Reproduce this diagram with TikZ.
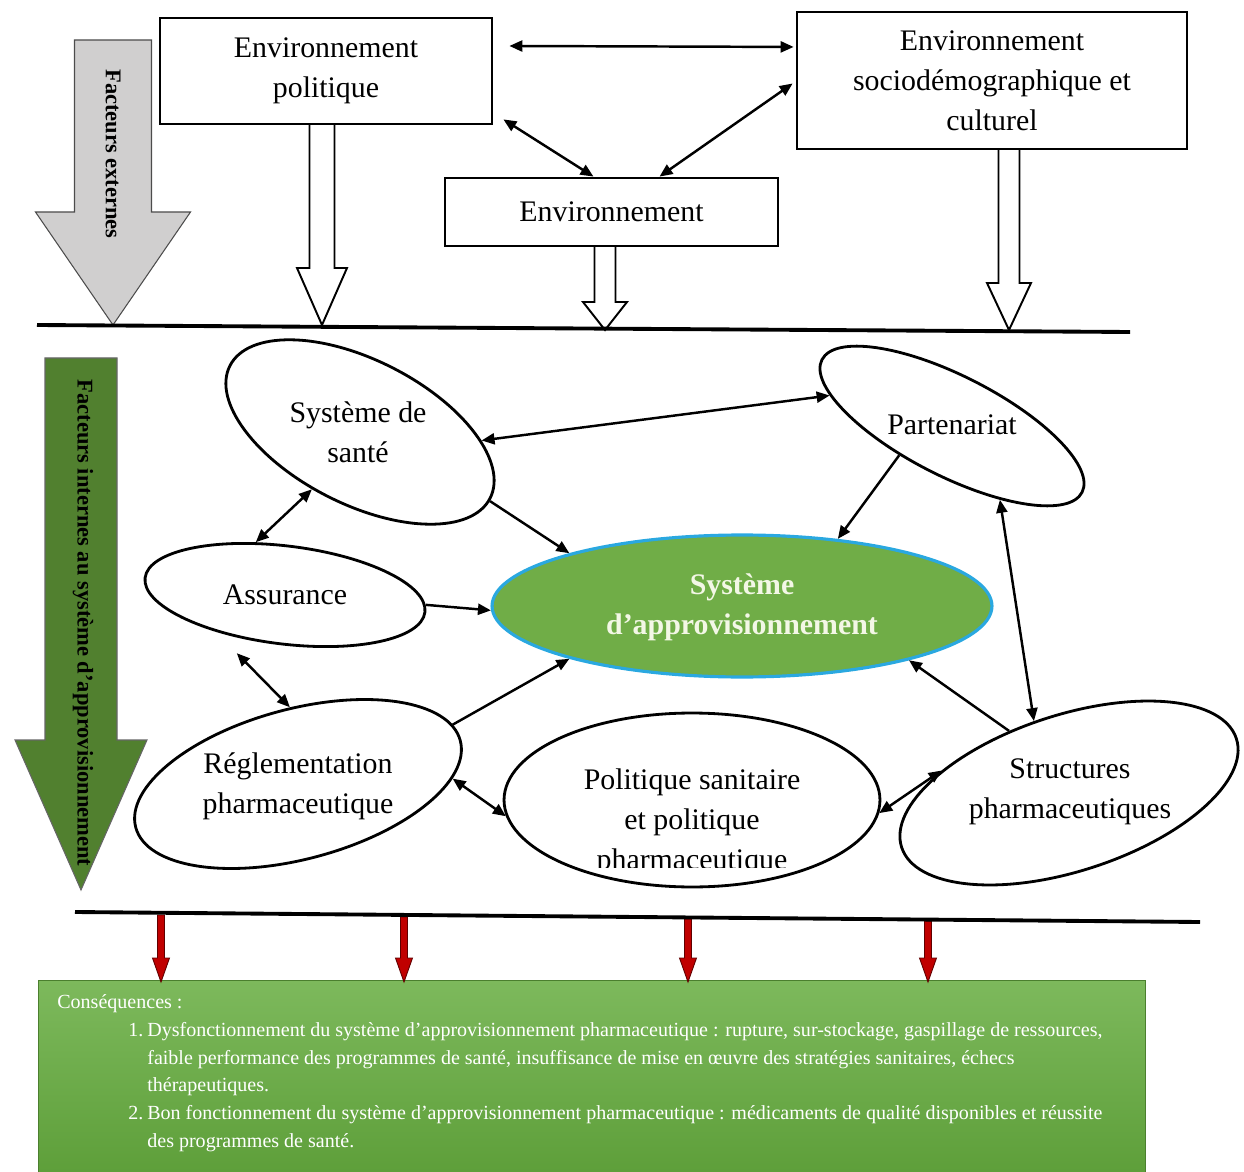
\documentclass[tikz,border=0pt]{standalone}
\usepackage{fontspec}
\setmainfont{Liberation Serif}
\usepackage{tikz}
\usetikzlibrary{arrows.meta}
\usetikzlibrary{calc}
\usetikzlibrary{shapes.geometric}

\definecolor{csqtop}{HTML}{7DB95C}
\definecolor{csqbot}{HTML}{5E9F3A}
\definecolor{maingreen}{HTML}{70AD47}
\definecolor{mainblue}{HTML}{2AA8E0}
\definecolor{maintext}{HTML}{F3F7E6}
\definecolor{extgray}{HTML}{D0CFCF}
\definecolor{intgreen}{HTML}{51802F}
\definecolor{arrowred}{HTML}{C00000}

% block arrow pointing down: style, x, top, head start, tip, half shaft, half head
\newcommand{\downblock}[7]{%
	\draw [#1] (#2-#6,#3) -- (#2+#6,#3) -- (#2+#6,#4) -- (#2+#7,#4) -- (#2,#5)
		-- (#2-#7,#4) -- (#2-#6,#4) -- cycle;}

\begin{document}
\begin{tikzpicture}[x=0.02cm,y=-0.02cm,
	>={Triangle[length=2.6mm,width=2.2mm]},
	envbox/.style={shape=rectangle,draw,line width=1.6pt,align=center,font=\fontsize{17}{22.8}\selectfont},
	oval/.style={shape=ellipse,draw,line width=1.6pt,inner sep=0pt},
	lbl/.style={align=center,font=\fontsize{17}{22.8}\selectfont},
	link/.style={line width=1.4pt},
	hollow/.style={draw,fill=white,line width=1.1pt},
	sidetext/.style={rotate=-90,font=\fontsize{12.8}{14}\selectfont\bfseries},
	csqtext/.style={anchor=base west,inner sep=0pt,text=white,font=\fontsize{11.4}{15}\selectfont}]
	\useasboundingbox (0,0) rectangle (1244,1172);

	% external factors
	\downblock{draw=black!70,fill=extgray,line width=0.6pt}{113}{40}{212}{325}{38.5}{77.5}
	\draw (113,154) node (ext) [sidetext] {Facteurs externes};

	\draw (326,71) node (pol) [envbox,minimum width=6.64cm,minimum height=2.12cm] {Environnement\\politique};
	\draw (611.5,212) node (env) [envbox,minimum width=6.66cm,minimum height=1.36cm] {Environnement};
	\draw (992,80.5) node (soc) [envbox,minimum width=7.8cm,minimum height=2.74cm] {Environnement\\sociodémographique et\\culturel};

	\draw [<->,link] ($(pol.north east)!.27!(pol.south east)+(16,0)$) -- ($(soc.north west)!.26!(soc.south west)+(-2,0)$);
	\draw [<->,link] ($(pol.south east)+(10,-6)$) -- ($(env.north)+(-18,0)$);
	\draw [<->,link] ($(soc.west)+(-3,3)$) -- ($(env.north)+(48,0)$);

	\downblock{hollow}{322}{124}{268}{325}{12.5}{25}
	\downblock{hollow}{605}{246}{302}{330}{10.5}{22}
	\downblock{hollow}{1009}{149}{283}{330}{10.5}{22}

	\draw [line width=2.2pt] (37,325) -- (1130,332);

	% internal factors
	\downblock{draw=black!60,fill=intgreen,line width=0.6pt}{81}{358}{740}{890}{36}{66}
	\draw (83,623) node (int) [sidetext] {Facteurs internes au système d’approvisionnement};

	\draw (360,432) node (sante) [oval,rotate=-27,minimum width=5.84cm,minimum height=2.88cm] {};
	\draw (952,426) node (part) [oval,rotate=-27,minimum width=5.84cm,minimum height=2.0cm] {};
	\draw (285,595) node (assur) [oval,rotate=-7,minimum width=5.64cm,minimum height=1.96cm] {};
	\draw (742,606) node (main) [oval,draw=mainblue,fill=maingreen,line width=1.8pt,minimum width=10cm,minimum height=2.84cm] {};
	\draw (298,784) node (regl) [oval,rotate=15,minimum width=6.72cm,minimum height=3.0cm] {};
	\draw (692,800) node (polsan) [oval,minimum width=7.52cm,minimum height=3.48cm] {};
	\draw (1069,793) node (struct) [oval,rotate=18,minimum width=7.04cm,minimum height=3.12cm] {};

	\draw (358,432) node (santetxt) [lbl] {Système de\\santé};
	\draw (952,425) node (parttxt) [lbl] {Partenariat};
	\draw (285,595) node (assurtxt) [lbl] {Assurance};
	\draw (742,607) node (maintxt) [lbl,text=maintext,font=\fontsize{17}{22.8}\selectfont\bfseries] {Système\\d’approvisionnement};
	\draw (298,786) node (regltxt) [lbl] {Réglementation\\pharmaceutique};
	\begin{scope}
		\clip (480,700) rectangle (900,867);
		\draw (692,822) node (polsantxt) [lbl] {Politique sanitaire\\et politique\\pharmaceutique};
	\end{scope}
	\draw (1070,792) node (structtxt) [lbl] {Structures\\pharmaceutiques};

	\draw [<->,link] (sante.23) -- (part.-167);
	\draw [->,link] (sante.-1) -- (main.163);
	\draw [<->,link] (sante.-103) -- (assur.126);
	\draw [->,link] (assur.3) -- (main.181);
	\draw [->,link] (part.-124) -- (main.35);
	\draw [<->,link] (part.-30) -- (struct.98);
	\draw [<->,link,shorten >=0.6cm] (regl.81) -- (assur.-145);
	\draw [->,link] (regl.6) -- (main.-163);
	\draw [<->,link] (regl.-13) -- (polsan.-175);
	\draw [<->,link] (struct.152) -- (polsan.-4);
	\draw [->,link] (struct.116) -- (main.-18);

	% consequences
	\draw (591.5,1076) node (csqbox) [shape=rectangle,top color=csqtop,bottom color=csqbot,draw=csqbot!80!black,line width=0.4pt,minimum width=22.14cm,minimum height=3.84cm] {};
	\foreach \x/\y in {161/915,404/917,688/919,928/921} {
		\downblock{draw=arrowred!50!black,fill=arrowred,line width=0.5pt}{\x}{\y}{958}{982}{3.5}{8.5}
	}
	\draw [line width=2.2pt] (75,912) -- (1200,922);

	\draw (57,1008) node (csqtitle) [csqtext] {Conséquences :};
	\draw (128,1036) node (num1) [csqtext] {1.};
	\draw (147,1036) node (item1a) [csqtext] {Dysfonctionnement du système d’approvisionnement pharmaceutique : rupture, sur-stockage, gaspillage de ressources,};
	\draw (147,1064) node (item1b) [csqtext] {faible performance des programmes de santé, insuffisance de mise en œuvre des stratégies sanitaires, échecs};
	\draw (147,1091) node (item1c) [csqtext] {thérapeutiques.};
	\draw (128,1119) node (num2) [csqtext] {2.};
	\draw (147,1119) node (item2a) [csqtext] {Bon fonctionnement du système d’approvisionnement pharmaceutique : médicaments de qualité disponibles et réussite};
	\draw (147,1147) node (item2b) [csqtext] {des programmes de santé.};
\end{tikzpicture}
\end{document}
